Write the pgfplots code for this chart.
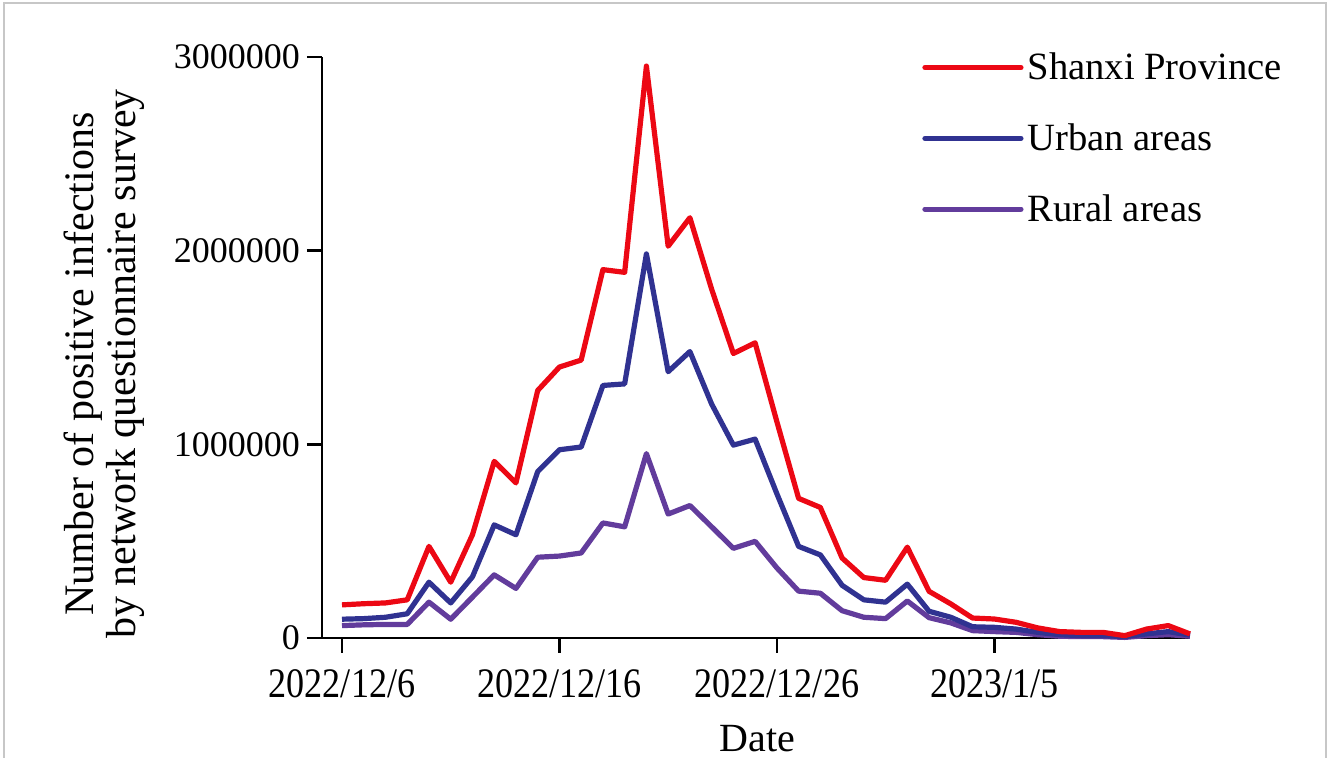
\documentclass[border=0pt]{standalone}
\usepackage{fontspec}
\setmainfont{Liberation Serif}
\usepackage{pgfplots}
\pgfplotsset{compat=1.18}
\usepackage{pgfplotstable}

\definecolor{cRed}{RGB}{236,8,20}
\definecolor{cBlue}{RGB}{48,50,145}
\definecolor{cPurple}{RGB}{98,60,156}

\pgfplotstableread{
day shanxi urban rural
0 171000 97000 64000
1 177000 100000 68000
2 181000 107000 70000
3 197000 125000 70000
4 473000 288000 185000
5 288000 181000 97000
6 533000 316000 211000
7 912000 584000 326000
8 801000 533000 256000
9 1278000 859000 417000
10 1399000 972000 423000
11 1435000 986000 439000
12 1902000 1304000 594000
13 1888000 1312000 574000
14 2953000 1983000 952000
15 2023000 1375000 640000
16 2170000 1479000 684000
17 1801000 1208000 574000
18 1469000 996000 463000
19 1524000 1027000 499000
20 1117000 745000 362000
21 721000 473000 242000
22 674000 429000 231000
23 413000 272000 141000
24 312000 197000 107000
25 298000 185000 100000
26 469000 278000 191000
27 241000 138000 105000
28 176000 107000 78000
29 103000 58000 38000
30 98000 55000 33000
31 81000 46000 29000
32 52000 29000 17000
33 33000 17000 9000
34 29000 12000 7000
35 29000 12000 7000
36 12000 7000 3000
37 46000 21000 12000
38 64000 33000 17000
39 21000 15000 9000
}\datatable

\begin{document}
\begin{tikzpicture}
\useasboundingbox (-161pt,-60pt) rectangle (504pt,319pt);
\draw[black!22, line width=0.8pt] (-159pt,-61pt) -- (-159pt,317.6pt) -- (502pt,317.6pt) -- (502pt,-61pt);
\begin{axis}[
  at={(0pt,0pt)}, anchor=south west,
  width=434pt, height=290.5pt, scale only axis,
  xmin=-0.92, xmax=39, ymin=0, ymax=3000000,
  axis x line*=bottom, axis y line*=left,
  axis line style={line width=1.25pt, black},
  every tick/.style={line width=1.25pt, black},
  tick align=outside,
  major tick length=7.5pt,
  xtick={0,10,20,30},
  xticklabels={2022/12/6,2022/12/16,2022/12/26,2023/1/5},
  ytick={0,1000000,2000000,3000000},
  yticklabels={0,1000000,2000000,3000000},
  scaled y ticks=false,
  clip=false,
  xticklabel style={font=\fontsize{21}{21}\selectfont, xscale=0.86, yshift=-5pt},
  yticklabel style={font=\fontsize{18}{18}\selectfont},
  ylabel={Number of positive infections\\by network questionnaire survey},
  ylabel style={at={(rel axis cs:-0.251,0.4716)}, anchor=center, align=center, font=\fontsize{21}{21}\selectfont},
  xlabel={Date},
  xlabel style={at={(rel axis cs:0.502,-0.174)}, anchor=center, font=\fontsize{20}{20}\selectfont},
  legend style={draw=none, fill=none, at={(rel axis cs:0.6912,1.015)}, anchor=north west,
    font=\fontsize{19.3}{19.3}\selectfont, row sep=16.5pt, inner sep=0pt},
  legend cell align=left,
  legend image code/.code={\draw[#1] (1.3pt,0pt) -- (33pt,0pt); \path (0pt,0pt) -- (48pt,0pt);},
]
\addlegendimage{cRed, line width=2.6pt, line cap=round}
\addlegendentry{Shanxi Province}
\addlegendimage{cBlue, line width=2.6pt, line cap=round}
\addlegendentry{Urban areas}
\addlegendimage{cPurple, line width=2.6pt, line cap=round}
\addlegendentry{Rural areas}
\addplot[cPurple, line width=2.6pt, line join=round, forget plot] table[x=day, y=rural] {\datatable};
\addplot[cBlue, line width=2.6pt, line join=round, forget plot] table[x=day, y=urban] {\datatable};
\addplot[cRed, line width=2.6pt, line join=round, forget plot] table[x=day, y=shanxi] {\datatable};
\end{axis}
\end{tikzpicture}
\end{document}
